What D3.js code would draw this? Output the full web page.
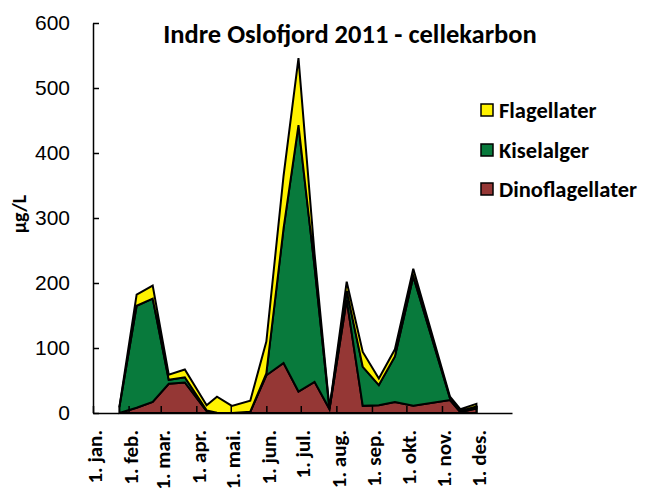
<!DOCTYPE html>
<html>
<head>
<meta charset="utf-8">
<script src="https://cdn.jsdelivr.net/npm/d3@7"></script>
<style>
  body { margin: 0; background: #fff; }
  svg { display: block; font-family: Carlito, Lato, "Open Sans", sans-serif; }
</style>
</head>
<body>
<div id="chart"></div>
<script>
// Sampling dates and carbon per group (µg/L).
var sampleDates = ["2011-01-24", "2011-02-08", "2011-02-22", "2011-03-08", "2011-03-22",
  "2011-04-10", "2011-04-19", "2011-05-02", "2011-05-18", "2011-06-01", "2011-06-16",
  "2011-06-29", "2011-07-13", "2011-07-26", "2011-08-10", "2011-08-24", "2011-09-07",
  "2011-09-21", "2011-10-07", "2011-11-08", "2011-11-17", "2011-12-01"];
var dinoflagellater = [0, 8, 17, 45, 47, 3, 0, 0, 2, 58, 77, 33, 48, 6, 174, 11, 12, 17, 11, 20, 1.5, 7];
var kiselalger = [9, 157, 159, 6, 8, 1, 0.5, 0, 0, 3, 207, 410, 177, 0.5, 14, 60, 31, 70, 199, 2.6, 1.5, 3];
var flagellater = [0.5, 17, 20, 8, 12, 8, 24.5, 11, 17, 49, 81, 103, 20, 0.5, 14, 23, 10, 11, 12, 2.4, 3, 4];

var seriesNames = ["Dinoflagellater", "Kiselalger", "Flagellater"];
var seriesColors = ["#953735", "#087a3c", "#fff200"];
var monthLabels = ["jan", "feb", "mar", "apr", "mai", "jun", "jul", "aug", "sep", "okt", "nov", "des"];
var yTicks = [0, 100, 200, 300, 400, 500, 600];

var width = 646, height = 488;
var margin = { top: 23, left: 93 };
var plotW = 419, plotH = 390;

var parse = d3.utcParse("%Y-%m-%d");
var rows = sampleDates.map(function(d, i) {
  return {
    date: parse(d),
    Dinoflagellater: dinoflagellater[i],
    Kiselalger: kiselalger[i],
    Flagellater: flagellater[i]
  };
});

var xScale = d3.scaleUtc()
  .domain([Date.UTC(2011, 0, 1), Date.UTC(2012, 0, 1)])
  .range([margin.left, margin.left + plotW]);
var yScale = d3.scaleLinear().domain([0, 600]).range([margin.top + plotH, margin.top]);

var svg = d3.select("#chart").append("svg")
  .attr("width", width)
  .attr("height", height);

// Stacked areas, each with a black border.
var stack = d3.stack().keys(seriesNames);
var area = d3.area()
  .x(function(d) { return xScale(d.data.date); })
  .y0(function(d) { return yScale(d[0]); })
  .y1(function(d) { return yScale(d[1]); });

svg.append("g")
  .selectAll("path")
  .data(stack(rows))
  .enter().append("path")
  .attr("d", area)
  .attr("fill", function(d, i) { return seriesColors[i]; })
  .attr("stroke", "#000")
  .attr("stroke-width", 2);

// Y axis.
var yAxis = d3.axisLeft(yScale)
  .tickValues(yTicks)
  .tickSizeInner(-6)
  .tickSizeOuter(0)
  .tickPadding(23);

var gy = svg.append("g")
  .attr("transform", "translate(" + margin.left + ",0)")
  .call(yAxis);
gy.selectAll("text").style("font-size", "21px").attr("fill", "#000");
gy.selectAll("line, path").attr("stroke", "#000").attr("stroke-width", 1.5);

// X axis with month ticks.
var months = d3.utcMonth.range(Date.UTC(2011, 0, 1), Date.UTC(2012, 0, 1));
var xAxis = d3.axisBottom(xScale)
  .tickValues(months)
  .tickSizeInner(-7)
  .tickSizeOuter(0)
  .tickFormat("");

var gx = svg.append("g")
  .attr("transform", "translate(0," + (margin.top + plotH) + ")")
  .call(xAxis);
gx.selectAll("line, path").attr("stroke", "#000").attr("stroke-width", 1.5);

svg.append("g")
  .selectAll("text")
  .data(months)
  .enter().append("text")
  .attr("transform", function(d) {
    return "translate(" + (xScale(d) + 2) + "," + 430 + ") rotate(-90)";
  })
  .attr("dy", "0.35em")
  .attr("text-anchor", "end")
  .style("font-size", "21px")
  .style("font-weight", "bold")
  .text(function(d, i) { return "1. " + monthLabels[i] + "."; });

// Y label.
svg.append("text")
  .attr("transform", "translate(19,214) rotate(-90)")
  .attr("dy", "0.35em")
  .attr("text-anchor", "middle")
  .style("font-size", "20px")
  .style("font-weight", "bold")
  .text("µg/L");

// Title.
svg.append("text")
  .attr("x", 350)
  .attr("y", 43)
  .attr("text-anchor", "middle")
  .style("font-size", "26.5px")
  .style("font-weight", "bold")
  .text("Indre Oslofjord 2011 - cellekarbon");

// Legend, top series first.
var legendY = [110, 150, 189];
var legend = svg.append("g")
  .selectAll("g")
  .data(seriesNames.slice().reverse())
  .enter().append("g")
  .attr("transform", function(d, i) { return "translate(481," + legendY[i] + ")"; });

legend.append("rect")
  .attr("x", 0)
  .attr("y", -6)
  .attr("width", 12)
  .attr("height", 12)
  .attr("fill", function(d) { return seriesColors[seriesNames.indexOf(d)]; })
  .attr("stroke", "#000")
  .attr("stroke-width", 1.5);

legend.append("text")
  .attr("x", 18)
  .attr("dy", "0.35em")
  .style("font-size", "22.5px")
  .style("font-weight", "bold")
  .text(function(d) { return d; });
</script>
</body>
</html>
